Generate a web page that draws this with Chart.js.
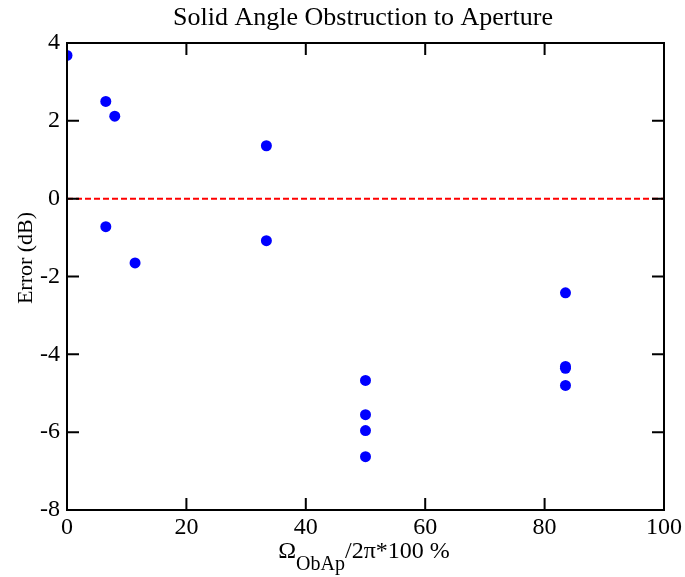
<!DOCTYPE html>
<html>
<head>
<meta charset="utf-8">
<script src="https://cdn.jsdelivr.net/npm/chart.js@4.4.0/dist/chart.umd.min.js"></script>
<style>
html,body{margin:0;padding:0;background:#fff}
#wrap{width:685px;height:577px}
</style>
</head>
<body>
<div id="wrap"><canvas id="c" width="685" height="577"></canvas></div>
<script>
// obstruction (% of 2pi) and error in dB
const obstruction=[0,6.5,8.0,6.5,11.4,33.4,33.4,50,50,50,50,83.5,83.5,83.5,83.5]
const errorDb=[3.68,2.5,2.12,-0.72,-1.65,1.36,-1.08,-4.67,-5.55,-5.96,-6.63,-2.42,-4.31,-4.36,-4.8]
const refX=[0,100]
const refY=[0,0]
const xTicks=[0,20,40,60,80,100]
const yTicks=[4,2,0,-2,-4,-6,-8]

const FONT="'Liberation Serif','DejaVu Serif',serif"

const pts=obstruction.map((x,i)=>({x:x,y:errorDb[i]}))
const ref=refX.map((x,i)=>({x:x,y:refY[i]}))

// frame + inward ticks + titles
const framePlugin={
id:"frame",
afterDraw(chart){
const ctx=chart.ctx
const a=chart.chartArea
const xs=chart.scales.x
const ys=chart.scales.y
ctx.save()
ctx.strokeStyle="#000"
ctx.lineWidth=2
ctx.strokeRect(a.left,a.top,a.right-a.left,a.bottom-a.top)
ctx.beginPath()
xTicks.forEach(v=>{
const px=xs.getPixelForValue(v)
ctx.moveTo(px,a.bottom);ctx.lineTo(px,a.bottom-12)
ctx.moveTo(px,a.top);ctx.lineTo(px,a.top+12)
})
yTicks.forEach(v=>{
const py=ys.getPixelForValue(v)
ctx.moveTo(a.left,py);ctx.lineTo(a.left+12,py)
ctx.moveTo(a.right,py);ctx.lineTo(a.right-12,py)
})
ctx.stroke()

ctx.fillStyle="#000"
ctx.textBaseline="alphabetic"
ctx.font="26px "+FONT
ctx.textAlign="center"
ctx.fillText("Solid Angle Obstruction to Aperture",363,25)

// x title with subscript
const main1="\u03A9"
const sub="ObAp"
const main2="/2\u03C0*100 %"
ctx.font="24px "+FONT
const w1=ctx.measureText(main1).width
const w3=ctx.measureText(main2).width
ctx.font="20px "+FONT
const w2=ctx.measureText(sub).width
let x0=364-(w1+w2+w3)/2
const base=558
ctx.textAlign="left"
ctx.font="24px "+FONT
ctx.fillText(main1,x0,base)
ctx.font="20px "+FONT
ctx.fillText(sub,x0+w1,base+12)
ctx.font="24px "+FONT
ctx.fillText(main2,x0+w1+w2,base)

// y title
ctx.translate(26,258)
ctx.rotate(-Math.PI/2)
ctx.textAlign="center"
ctx.textBaseline="middle"
ctx.font="22px "+FONT
ctx.fillText("Error (dB)",0,0)
ctx.restore()
}
}

new Chart(document.getElementById("c"),{
type:"scatter",
data:{datasets:[
{data:ref,showLine:true,borderColor:"#ff0000",borderWidth:2,borderDash:[6,3],pointRadius:0,order:2},
{data:pts,backgroundColor:"#0000ff",borderColor:"#0000ff",pointRadius:5.5,borderWidth:0,order:1}
]},
options:{
responsive:false,
animation:false,
events:[],
layout:{padding:{top:43,right:20,bottom:0,left:0}},
plugins:{legend:{display:false},tooltip:{enabled:false}},
scales:{
x:{
type:"linear",min:0,max:100,
afterBuildTicks(s){s.ticks=xTicks.map(v=>({value:v}))},
afterFit(s){s.height=67},
grid:{display:false,drawTicks:false},
border:{display:false},
ticks:{color:"#000",font:{family:FONT,size:24},padding:3,maxRotation:0,autoSkip:false}
},
y:{
type:"linear",min:-8,max:4,
afterBuildTicks(s){s.ticks=yTicks.map(v=>({value:v}))},
afterFit(s){s.width=67},
grid:{display:false,drawTicks:false},
border:{display:false},
ticks:{color:"#000",font:{family:FONT,size:24},padding:7,autoSkip:false}
}
}
},
plugins:[framePlugin]
})
</script>
</body>
</html>
